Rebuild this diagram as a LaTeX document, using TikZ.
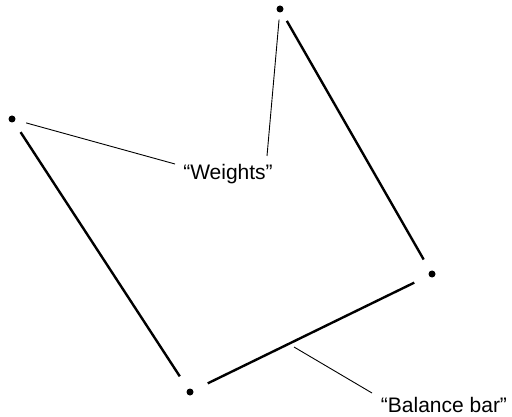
\documentclass[tikz,border=0pt]{standalone}
\usepackage{fontspec}
\setmainfont{Liberation Sans}
\begin{document}
\begin{tikzpicture}[x=1pt,y=-1pt,
  dot/.style={circle,fill=black,inner sep=0pt,minimum size=7pt},
  bar/.style={line width=2.4pt},
  lead/.style={line width=0.9pt},
  lbl/.style={font=\fontsize{21}{25}\selectfont,inner sep=0pt}]
\useasboundingbox (0,0) rectangle (512,417);
\node[dot] (L) at (12,119) {};
\node[dot] (T) at (280,9) {};
\node[dot] (R) at (432,274) {};
\node[dot] (B) at (190,392) {};
\node[lbl] (W) at (228,174) {“Weights”};
\node[lbl] (BB) at (444,405) {“Balance bar”};
\coordinate (wl) at (175,164);
\coordinate (wt) at (267,156);
\coordinate (bs) at (294,347);
\coordinate (be) at (372,393);
\draw[bar,shorten <=12pt,shorten >=15pt] (L) -- (B);
\draw[bar,shorten <=16pt,shorten >=16pt] (B) -- (R);
\draw[bar,shorten <=10pt,shorten >=13pt] (T) -- (R);
\draw[lead,shorten <=11pt] (L) -- (wl);
\draw[lead,shorten <=7pt] (T) -- (wt);
\draw[lead] (bs) -- (be);
\end{tikzpicture}
\end{document}
